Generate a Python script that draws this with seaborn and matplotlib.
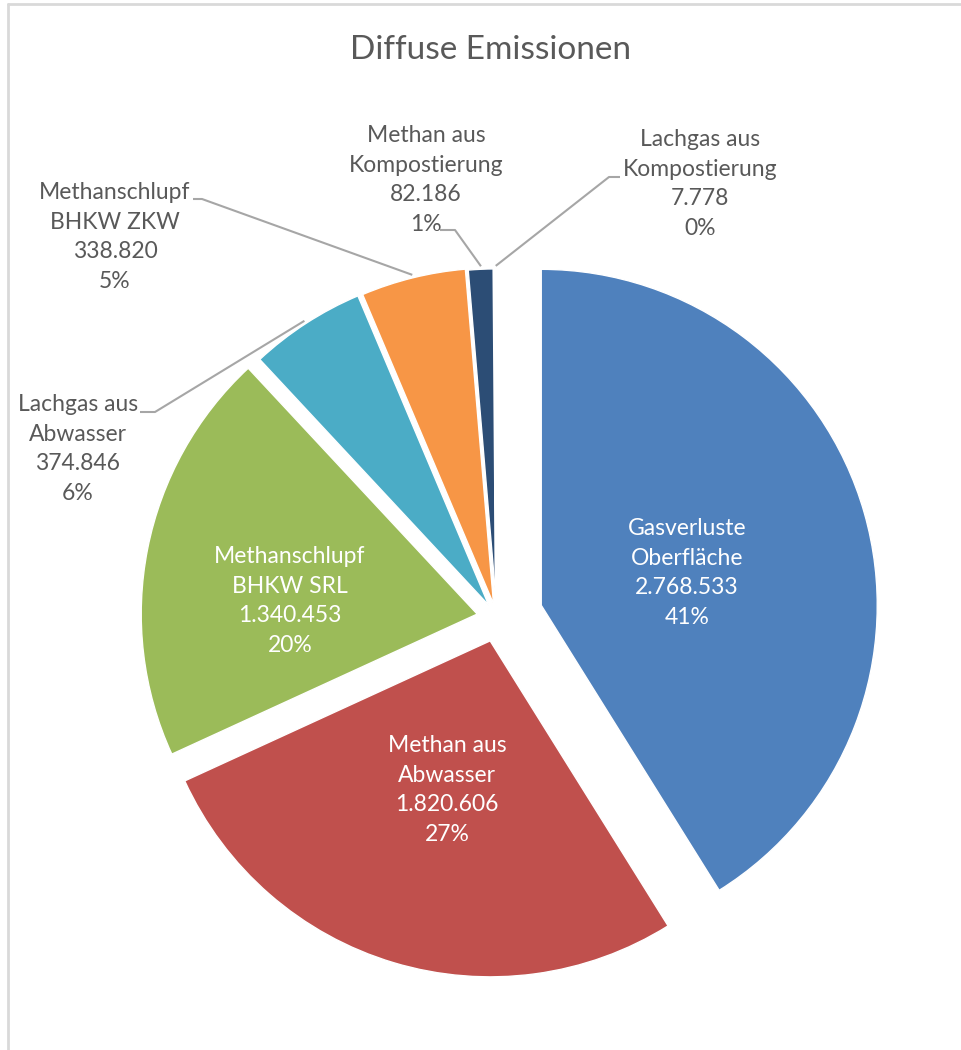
import matplotlib
matplotlib.use("Agg")
import matplotlib.pyplot as plt
import seaborn as sns
import numpy as np

# data
names = ["Gasverluste\nOberfläche", "Methan aus\nAbwasser", "Methanschlupf\nBHKW SRL",
         "Lachgas aus\nAbwasser", "Methanschlupf\nBHKW ZKW", "Methan aus\nKompostierung",
         "Lachgas aus\nKompostierung"]
values = [2768533, 1820606, 1340453, 374846, 338820, 82186, 7778]
colors = ["#4F81BD", "#C0504D", "#9BBB59", "#4BACC6", "#F79646", "#2C4D75", "#772C2A"]
explode = [0.137, 0.071, 0.06, 0.045, 0.043, 0.039, 0.039]

W, H = 961, 1050
R = 336

sns.set_theme(style="white")
plt.rcParams['font.family'] = ['Lato', 'DejaVu Sans']

def px(x, y):
    # pixel coords (y down) -> data coords
    return x, H - y

fig = plt.figure(figsize=(W / 100, H / 100), dpi=100)
ax = fig.add_axes([0, 0, 1, 1])

# explode in pie is in data units, so scale by radius
wedges, _ = ax.pie(values, explode=[e * R for e in explode], colors=colors, startangle=90,
                   counterclock=False, center=px(497, 618), radius=R,
                   wedgeprops=dict(linewidth=1, edgecolor="white"))
# the 0% slice is swallowed by its white border in the original
wedges[6].set_linewidth(3)
ax.set_xlim(0, W)
ax.set_ylim(0, H)
ax.set_aspect("equal")
ax.axis("off")

total = sum(values)
def label_text(i):
    v = f"{values[i]:,}".replace(",", ".")
    return f"{names[i]}\n{v}\n{round(values[i] / total * 100)}%"

# labels inside the big slices
inner_pos = {0: (687, 573), 1: (447, 790), 2: (290, 601)}
for i, (x, y) in inner_pos.items():
    ax.text(*px(x, y), label_text(i), ha="center", va="center", color="white",
            fontsize=16.5, linespacing=1.5)

# labels outside with leader lines (label pos, elbow start, elbow end)
outer = {
    3: ((78, 449), (140, 412), (155, 412)),
    4: ((115, 237), (193, 199), (202, 199)),
    5: ((426, 180), (440, 230), (455, 230)),
    6: ((700, 184), (620, 177), (609, 177)),
}
for i, (lp, a, b) in outer.items():
    ax.text(*px(*lp), label_text(i), ha="center", va="center", color="#595959",
            fontsize=16.5, linespacing=1.5)
    w = wedges[i]
    th = np.deg2rad((w.theta1 + w.theta2) / 2)
    tip = (w.center[0] + (w.r + 3) * np.cos(th), w.center[1] + (w.r + 3) * np.sin(th))
    xs = [a[0], b[0], tip[0]]
    ys = [H - a[1], H - b[1], tip[1]]
    ax.plot(xs, ys, color="#A6A6A6", lw=1.5, solid_capstyle="butt")

ax.text(*px(490, 50), "Diffuse Emissionen", ha="center", va="center", color="#595959", fontsize=24)

# chart frame (only top and left visible in the crop)
ax.plot([8, 8], [0, H - 4], color="#D9D9D9", lw=2)
ax.plot([8, W], [H - 4, H - 4], color="#D9D9D9", lw=2)

fig.savefig("out.png", dpi=100)
